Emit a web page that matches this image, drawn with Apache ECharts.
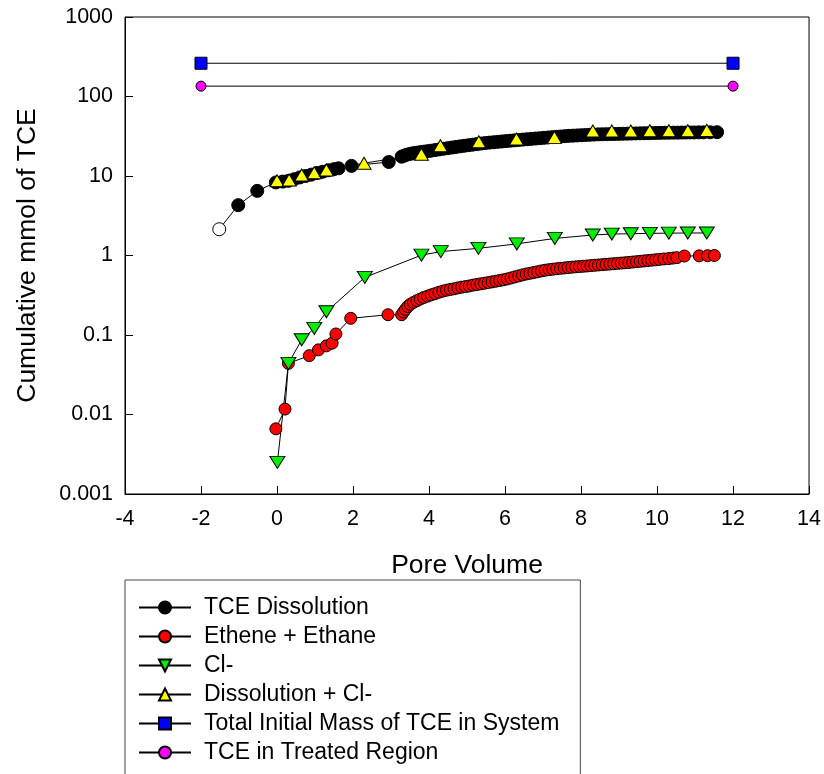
<!DOCTYPE html>
<html>
<head>
<meta charset="utf-8">
<script src="https://cdn.jsdelivr.net/npm/echarts@6/dist/echarts.min.js"></script>
<style>
  html, body { margin: 0; padding: 0; background: #fff; }
  #chart { width: 824px; height: 774px; }
</style>
</head>
<body>
<div id="chart"></div>
<script>
// Pore volumes and cumulative mmol for each measured quantity
const tceX = [-1.52, -1.02, -0.52, -0.03, 0.15, 0.30, 0.45, 0.60, 0.75, 0.90, 1.05, 1.20, 1.35, 1.50, 1.62,
  1.96, 2.94,
  3.28, 3.34, 3.41, 3.49, 3.57, 3.66, 3.75, 3.85, 3.95, 4.05, 4.16, 4.27, 4.38, 4.49, 4.60, 4.71, 4.82, 4.93,
  5.04, 5.15, 5.26, 5.37, 5.48, 5.59, 5.70, 5.81, 5.92, 6.03, 6.14, 6.25, 6.36, 6.47, 6.58, 6.69, 6.80, 6.91,
  7.02, 7.13, 7.24, 7.35, 7.46, 7.57, 7.68, 7.79, 7.90, 8.01, 8.12, 8.23, 8.34, 8.45, 8.56, 8.67, 8.78, 8.89,
  9.00, 9.11, 9.22, 9.33, 9.44, 9.55, 9.66, 9.77, 9.88, 9.99, 10.10, 10.21, 10.32, 10.43, 10.54, 10.65, 10.76,
  10.87, 10.98, 11.10, 11.22, 11.40, 11.58];
const tceY = [2.14, 4.3, 6.5, 8.3, 8.5, 8.7, 9.1, 9.6, 10.0, 10.4, 10.9, 11.3, 11.8, 12.2, 12.5,
  13.4, 15.0,
  17.5, 18.0, 18.5, 18.9, 19.3, 19.6, 19.9, 20.2, 20.5, 20.8, 21.2, 21.6, 22.0, 22.4, 22.8, 23.2, 23.6, 24.0,
  24.4, 24.8, 25.2, 25.6, 26.0, 26.3, 26.6, 26.9, 27.2, 27.5, 27.8, 28.1, 28.4, 28.7, 29.0, 29.3, 29.6, 29.9,
  30.2, 30.5, 30.8, 31.1, 31.4, 31.7, 32.0, 32.2, 32.4, 32.6, 32.8, 33.0, 33.2, 33.4, 33.5, 33.6, 33.7, 33.8,
  33.9, 34.0, 34.1, 34.2, 34.3, 34.4, 34.5, 34.6, 34.7, 34.8, 34.9, 35.0, 35.0, 35.1, 35.1, 35.2, 35.2,
  35.3, 35.3, 35.4, 35.4, 35.5, 35.6];

const etheneX = [-0.03, 0.21, 0.30, 0.85, 1.09, 1.30, 1.45, 1.55, 1.94, 2.92,
  3.28, 3.33, 3.38, 3.44, 3.51, 3.59, 3.68, 3.77, 3.86, 3.96, 4.06, 4.16, 4.26, 4.36, 4.46, 4.56, 4.66, 4.76,
  4.86, 4.96, 5.06, 5.16, 5.26, 5.36, 5.46, 5.56, 5.66, 5.76, 5.86, 5.96, 6.06, 6.16, 6.26, 6.36, 6.46, 6.56,
  6.66, 6.76, 6.86, 6.96, 7.06, 7.16, 7.26, 7.36, 7.46, 7.56, 7.66, 7.76, 7.86, 7.96, 8.06, 8.16, 8.26, 8.36,
  8.46, 8.56, 8.66, 8.76, 8.86, 8.96, 9.06, 9.16, 9.26, 9.36, 9.46, 9.56, 9.66, 9.76, 9.86, 9.96, 10.06,
  10.18, 10.31, 10.42, 10.52, 10.72, 11.11, 11.33, 11.51];
const etheneY = [0.0066, 0.0117, 0.044, 0.055, 0.065, 0.073, 0.079, 0.103, 0.162, 0.18,
  0.180, 0.195, 0.210, 0.228, 0.243, 0.257, 0.270, 0.283, 0.296, 0.308, 0.320, 0.331, 0.345, 0.356, 0.366,
  0.374, 0.381, 0.391, 0.400, 0.406, 0.414, 0.424, 0.432, 0.440, 0.448, 0.456, 0.466, 0.475, 0.485, 0.495,
  0.507, 0.522, 0.538, 0.554, 0.570, 0.585, 0.598, 0.611, 0.625, 0.640, 0.653, 0.664, 0.673, 0.681, 0.689,
  0.697, 0.705, 0.713, 0.720, 0.726, 0.732, 0.739, 0.746, 0.753, 0.760, 0.767, 0.774, 0.781, 0.788, 0.796,
  0.803, 0.810, 0.818, 0.827, 0.836, 0.845, 0.855, 0.864, 0.873, 0.882, 0.893,
  0.905, 0.915, 0.928, 0.940, 0.985, 0.990, 0.995, 1.00];

const chlorideX = [0.01, 0.30, 0.65, 0.98, 1.30, 2.31, 3.80, 4.31, 5.30, 6.31, 7.31, 8.31, 8.81, 9.31, 9.81, 10.31, 10.81, 11.31];
const chlorideY = [0.0025, 0.044, 0.087, 0.121, 0.196, 0.53, 1.01, 1.12, 1.23, 1.40, 1.64, 1.81, 1.86, 1.88, 1.90, 1.91, 1.92, 1.92];

const sumX = [0.00, 0.32, 0.65, 0.98, 1.30, 2.29, 3.80, 4.30, 5.31, 6.30, 7.30, 8.31, 8.81, 9.31, 9.81, 10.31, 10.81, 11.31];
const sumY = [8.7, 8.9, 10.3, 11.0, 11.9, 14.5, 18.8, 24.0, 27.0, 29.2, 30.6, 36.8, 36.8, 36.9, 37.0, 37.0, 37.1, 37.5];

const totalX = [-2, 12];
const totalY = [262, 262];

const treatedX = [-2, 12];
const treatedY = [135, 135];

const xTicks = { min: -4, max: 14, step: 2 };
const yTicks = { min: 0.001, max: 1000 };

const FONT = '"Liberation Sans", Arial, sans-serif';

function pairs(xs, ys) {
  return xs.map((x, i) => [x, ys[i]]);
}

const edge = { borderColor: '#000', borderWidth: 1 };

// first dissolution sample is drawn as an open circle
const tceData = pairs(tceX, tceY).map((p, i) =>
  i === 0 ? { value: p, itemStyle: { color: '#fff', borderColor: '#000', borderWidth: 1 } } : p);

function lineSeries(name, data, symbol, size, color, extra) {
  return Object.assign({
    name: name,
    type: 'line',
    data: data,
    symbol: symbol,
    symbolSize: size,
    showAllSymbol: true,
    lineStyle: { color: '#000', width: 1 },
    itemStyle: Object.assign({ color: color }, edge),
    emphasis: { disabled: true }
  }, extra || {});
}

const chart = echarts.init(document.getElementById('chart'), null, { renderer: 'canvas' });

chart.setOption({
  animation: false,
  backgroundColor: '#fff',
  textStyle: { fontFamily: FONT },
  grid: {
    left: 125, top: 17, width: 685, height: 477,
    show: true, borderColor: '#000', borderWidth: 1, backgroundColor: 'transparent'
  },
  xAxis: {
    type: 'value',
    min: xTicks.min, max: xTicks.max, interval: xTicks.step,
    name: 'Pore Volume',
    nameLocation: 'middle',
    nameGap: 58,
    nameTextStyle: { fontSize: 26.5, color: '#000', fontFamily: FONT },
    axisLine: { onZero: false, lineStyle: { color: '#000', width: 1 } },
    axisTick: { inside: true, length: 8, lineStyle: { color: '#000' } },
    axisLabel: { color: '#000', fontSize: 21.5, margin: 14, fontFamily: FONT },
    splitLine: { show: false }
  },
  yAxis: {
    type: 'log',
    logBase: 10,
    min: yTicks.min, max: yTicks.max,
    splitNumber: 6,
    name: 'Cumulative mmol of TCE',
    nameLocation: 'middle',
    nameGap: 84,
    nameTextStyle: { fontSize: 26.5, color: '#000', fontFamily: FONT },
    axisLine: { onZero: false, lineStyle: { color: '#000', width: 1 } },
    axisTick: { inside: true, length: 8, lineStyle: { color: '#000' } },
    axisLabel: {
      color: '#000', fontSize: 21.5, margin: 12, fontFamily: FONT,
      formatter: function (v) {
        const e = Math.round(Math.log10(v));
        return e < 0 ? Math.pow(10, e).toFixed(-e) : String(Math.pow(10, e));
      }
    },
    splitLine: { show: false }
  },
  legend: {
    orient: 'vertical',
    left: 125,
    top: 580,
    height: 260,
    padding: [16, 21, 40, 13],
    itemWidth: 52,
    itemHeight: 15,
    itemGap: 6,
    borderColor: '#444',
    borderWidth: 1,
    selectedMode: false,
    textStyle: { fontSize: 23, lineHeight: 22, color: '#000', fontFamily: FONT, padding: [0, 0, 0, 8] },
    data: ['TCE Dissolution', 'Ethene + Ethane', 'Cl-', 'Dissolution + Cl-',
      'Total Initial Mass of TCE in System', 'TCE in Treated Region']
  },
  series: [
    lineSeries('TCE Dissolution', tceData, 'circle', 13, '#000'),
    lineSeries('Ethene + Ethane', pairs(etheneX, etheneY), 'circle', 12, '#ff0000'),
    lineSeries('Cl-', pairs(chlorideX, chlorideY), 'triangle', [15, 12], '#00ee00', { symbolRotate: 180 }),
    lineSeries('Dissolution + Cl-', pairs(sumX, sumY), 'triangle', [14, 12], '#ffff00'),
    lineSeries('Total Initial Mass of TCE in System', pairs(totalX, totalY), 'rect', 12, '#0000ff'),
    lineSeries('TCE in Treated Region', pairs(treatedX, treatedY), 'circle', 10, '#ff00ff')
  ]
});
</script>
</body>
</html>
